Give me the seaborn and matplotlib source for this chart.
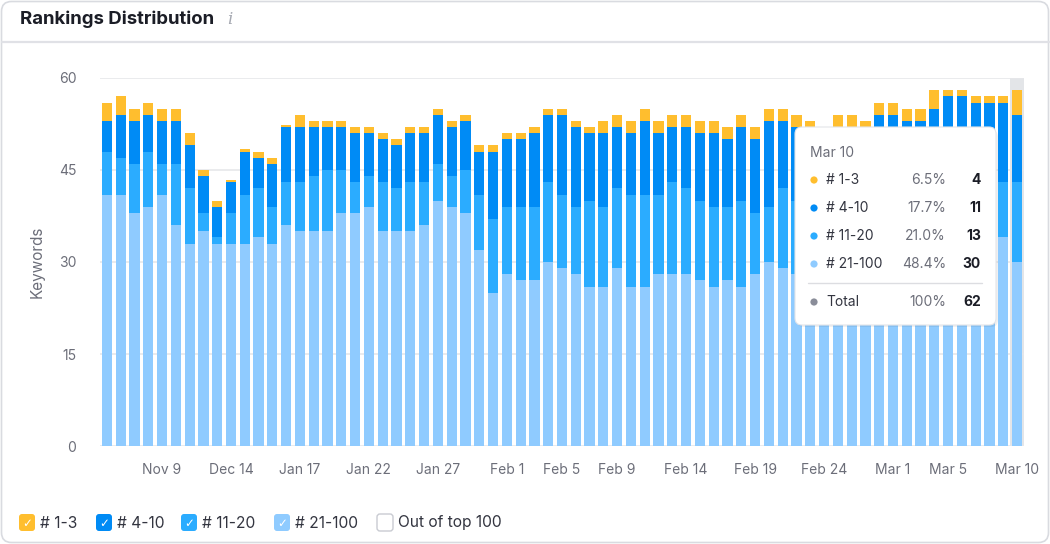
import numpy as np
import pandas as pd
import seaborn as sns
import matplotlib.pyplot as plt
from matplotlib.patches import FancyBboxPatch, Circle

# values, one entry per day/bar (67 bars)
pos_21_100 = [41, 41, 38, 39, 41, 36, 33, 35, 33, 33, 33, 34, 33, 36, 35, 35, 35, 38, 38, 39,
              35, 35, 35, 36, 40, 39, 38, 32, 25, 28, 27, 27, 30, 29, 28, 26, 26, 29, 26, 26,
              28, 28, 28, 27, 26, 27, 26, 28, 30, 29, 28, 28, 28, 29, 29, 30, 30, 31, 30, 31,
              32, 32, 33, 33, 34, 34, 30]
pos_11_20 = [7, 6, 8, 9, 5, 10, 9, 3, 1, 5, 8, 8, 6, 7, 8, 9, 10, 7, 5, 5,
             8, 7, 8, 7, 6, 5, 7, 9, 12, 11, 12, 12, 13, 12, 11, 14, 13, 13, 15, 15,
             13, 15, 14, 13, 13, 12, 14, 10, 9, 13, 12, 12, 11, 12, 11, 10, 12, 11, 12, 11,
             12, 13, 12, 11, 10, 9, 13]
pos_4_10 = [5, 7, 7, 6, 7, 7, 7, 6, 5, 5, 7, 5, 7, 9, 9, 8, 7, 7, 8, 7,
            7, 7, 8, 8, 8, 8, 8, 7, 11, 11, 11, 12, 11, 13, 13, 11, 12, 10, 10, 12,
            10, 9, 10, 11, 12, 11, 12, 12, 14, 11, 12, 11, 10, 10, 11, 11, 12, 12, 11, 11,
            11, 12, 12, 12, 12, 13, 11]
pos_1_3 = [3, 3, 2, 2, 2, 2, 2, 1, 1, 0.4, 0.4, 1, 1, 0.4, 2, 1, 1, 1, 1, 1,
           1, 1, 1, 1, 1, 1, 1, 1, 1, 1, 1, 1, 1, 1, 1, 1, 2, 2, 2, 2,
           2, 2, 2, 2, 2, 2, 2, 2, 2, 2, 2, 2, 2, 3, 3, 2, 2, 2, 2, 2,
           3, 1, 1, 1, 1, 1, 4]

tick_pos = [4, 9, 14, 19, 24, 29, 33, 37, 42, 47, 52, 57, 61, 66]
tick_labels = ["Nov 9", "Dec 14", "Jan 17", "Jan 22", "Jan 27", "Feb 1", "Feb 5",
               "Feb 9", "Feb 14", "Feb 19", "Feb 24", "Mar 1", "Mar 5", "Mar 10"]

series_names = ["# 1-3", "# 4-10", "# 11-20", "# 21-100"]
colors = ["#ffbe2e", "#008bf5", "#2bacff", "#8fcbff"]

# tooltip content for the hovered day
tip_date = "Mar 10"
tip_pct = ["6.5%", "17.7%", "21.0%", "48.4%"]
tip_val = ["4", "11", "13", "30"]
tip_total = ("Total", "100%", "62")

sns.set_theme(style="white")
plt.rcParams['font.family'] = ['Inter', 'DejaVu Sans']

df = pd.DataFrame({"day": np.arange(len(pos_21_100)),
                   "p21": pos_21_100, "p11": pos_11_20, "p4": pos_4_10, "p1": pos_1_3})
df["c_light"] = df["p21"]
df["c_mid"] = df["c_light"] + df["p11"]
df["c_dark"] = df["c_mid"] + df["p4"]
df["c_top"] = df["c_dark"] + df["p1"]

W, H = 1050, 544
fig = plt.figure(figsize=(W / 100, H / 100), dpi=100)
fig.patch.set_facecolor("white")

ax = fig.add_axes([100 / W, 1 - 446 / H, 924 / W, 368 / H])

# highlighted column for the hovered day
ax.axvspan(65.5, 66.5, color="#e3e5e8", zorder=0, lw=0)

# stacked bars: draw cumulative totals from the top down
for col, c in zip(["c_top", "c_dark", "c_mid", "c_light"], colors):
    sns.barplot(data=df, x="day", y=col, color=c, saturation=1, width=0.74,
                errorbar=None, ax=ax, zorder=2, linewidth=0)

ax.set_xlim(-0.5, len(df) - 0.5)
ax.set_ylim(0, 60)
ax.set_yticks([0, 15, 30, 45, 60])
ax.set_xticks(tick_pos)
ax.set_xticklabels(tick_labels)
ax.set_xlabel("")
ax.set_ylabel("")
ax.yaxis.grid(True, color="#e6e7ea", lw=1.2)
ax.set_axisbelow(True)
for s in ax.spines.values():
    s.set_visible(False)
ax.tick_params(axis="both", length=0, labelsize=10, labelcolor="#6c6e79")
ax.tick_params(axis="y", pad=17)
ax.tick_params(axis="x", pad=12)

fig.text(37 / W, 1 - 262 / H, "Keywords", rotation=90, ha="center", va="center",
         fontsize=11, color="#6c6e79")

# overlay in pixel coordinates for the card, tooltip and legend
ov = fig.add_axes([0, 0, 1, 1], zorder=5)
ov.set_xlim(0, W)
ov.set_ylim(H, 0)
ov.axis("off")

ov.add_patch(FancyBboxPatch((1.5, 1.5), W - 3, H - 3, boxstyle="round,pad=0,rounding_size=10",
                            fc="none", ec="#d9dbe0", lw=1.2))
ov.plot([1.5, W - 1.5], [42, 42], color="#e0e1e6", lw=1.6)
ov.text(20, 19, "Rankings Distribution", fontsize=13.4, fontweight="bold",
        color="#1b1d26", va="center")
ov.text(227, 20, "i", fontsize=12, family="DejaVu Serif", style="italic",
        color="#a6a9b2", va="center")

# tooltip
ov.add_patch(FancyBboxPatch((797, 130), 201, 197, boxstyle="round,pad=0,rounding_size=7",
                            fc="#000000", ec="none", alpha=0.06))
ov.add_patch(FancyBboxPatch((795, 127), 201, 198, boxstyle="round,pad=0,rounding_size=7",
                            fc="white", ec="#e4e5e9", lw=0.8))
ov.text(810, 153, tip_date, fontsize=10, color="#6c6e79", va="center")
for i, (name, c) in enumerate(zip(series_names, colors)):
    y = 180 + i * 28
    ov.add_patch(Circle((814, y), 3.6, fc=c, ec="none"))
    ov.text(826, y, name, fontsize=10, color="#333540", va="center")
    ov.text(946, y, tip_pct[i], fontsize=10, color="#6c6e79", va="center", ha="right")
    ov.text(981, y, tip_val[i], fontsize=10, fontweight="bold", color="#1b1d26",
            va="center", ha="right")
ov.plot([808, 982], [283, 283], color="#dcdde1", lw=1)
ov.add_patch(Circle((814, 302), 3.6, fc="#8a8d99", ec="none"))
ov.text(826, 302, tip_total[0], fontsize=10, color="#333540", va="center")
ov.text(946, 302, tip_total[1], fontsize=10, color="#6c6e79", va="center", ha="right")
ov.text(981, 302, tip_total[2], fontsize=10, fontweight="bold", color="#1b1d26",
        va="center", ha="right")

# legend with checkboxes
legend_names = series_names + ["Out of top 100"]
legend_colors = colors + [None]
box_x = [19, 96, 181, 274, 377]
for bx, name, c in zip(box_x, legend_names, legend_colors):
    if c is None:
        ov.add_patch(FancyBboxPatch((bx, 514), 16, 17, boxstyle="round,pad=0,rounding_size=3",
                                    fc="white", ec="#c9cbd2", lw=1))
    else:
        ov.add_patch(FancyBboxPatch((bx, 514), 16, 17, boxstyle="round,pad=0,rounding_size=3",
                                    fc=c, ec="none"))
        ov.text(bx + 8, 523, "\u2713", fontsize=8.5, color="white", ha="center", va="center",
                family="DejaVu Sans")
    ov.text(bx + 21, 523, name, fontsize=11.2, color="#333540", va="center")

fig.savefig("out.png", dpi=100, facecolor="white")
